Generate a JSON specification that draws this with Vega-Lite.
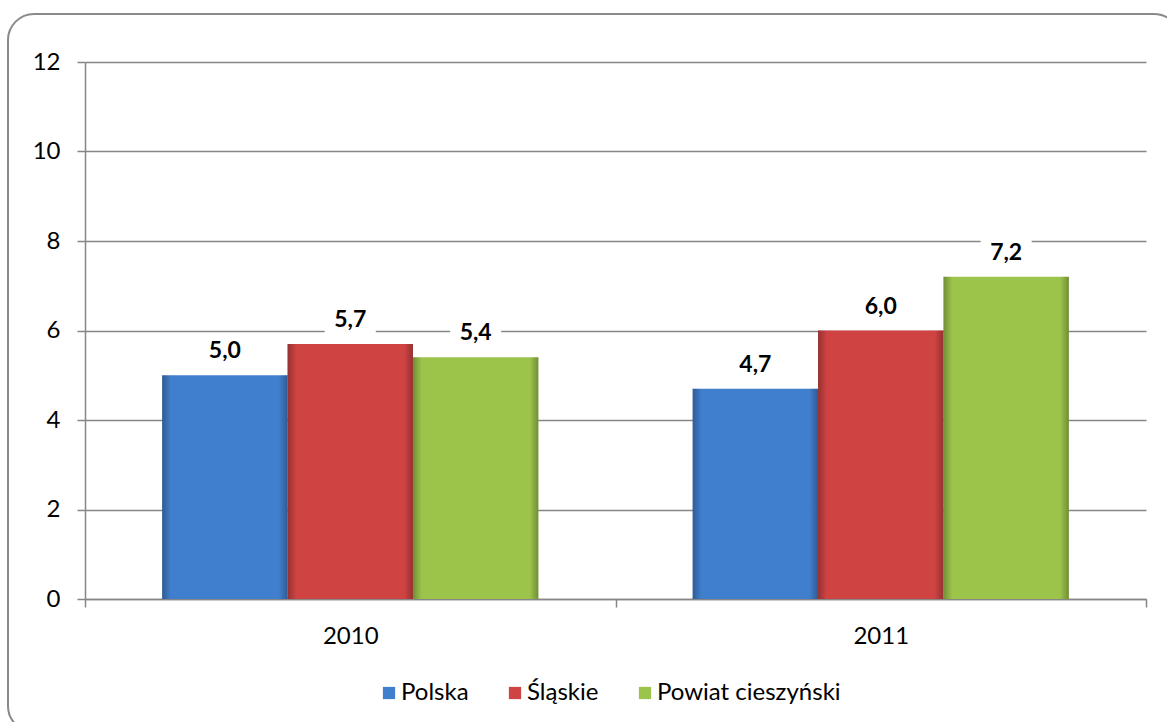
{
  "$schema": "https://vega.github.io/schema/vega-lite/v6.json",
  "width": 1172,
  "height": 718,
  "autosize": "none",
  "padding": {"left": 8, "top": 14, "right": -13, "bottom": -10},
  "background": "white",
  "config": {
    "locale": {"number": {"decimal": ",", "thousands": " ", "grouping": [3], "currency": ["", " zł"]}},
    "view": {"stroke": "#8a8a8a", "strokeWidth": 2, "cornerRadius": 26},
    "font": "Lato"
  },
  "data": {
    "values": [
      {"year": "2010", "region": "Polska", "value": 5.0},
      {"year": "2010", "region": "Śląskie", "value": 5.7},
      {"year": "2010", "region": "Powiat cieszyński", "value": 5.4},
      {"year": "2011", "region": "Polska", "value": 4.7},
      {"year": "2011", "region": "Śląskie", "value": 6.0},
      {"year": "2011", "region": "Powiat cieszyński", "value": 7.2}
    ]
  },
  "encoding": {
    "x": {
      "field": "year",
      "type": "nominal",
      "scale": {"range": [77, 1138], "paddingInner": 0, "paddingOuter": 0},
      "axis": {
        "title": null,
        "offset": -133,
        "labelAngle": 0,
        "labelFont": "Lato",
        "labelFontSize": 24,
        "labelColor": "#000000",
        "labelPadding": 17,
        "tickBand": "extent",
        "tickSize": 8,
        "tickColor": "#868686",
        "tickWidth": 1.5,
        "domainColor": "#868686",
        "domainWidth": 1.5,
        "grid": false
      }
    },
    "xOffset": {
      "field": "region",
      "type": "nominal",
      "sort": ["Polska", "Śląskie", "Powiat cieszyński"],
      "scale": {"paddingInner": 0, "paddingOuter": 0.615}
    },
    "y": {
      "field": "value",
      "type": "quantitative",
      "scale": {"domain": [0, 12], "range": [585, 48], "nice": false, "zero": true},
      "axis": {
        "title": null,
        "offset": -77,
        "values": [0, 2, 4, 6, 8, 10, 12],
        "format": "d",
        "labelFont": "Lato",
        "labelFontSize": 24,
        "labelColor": "#000000",
        "labelPadding": 17,
        "tickSize": 8,
        "tickColor": "#868686",
        "tickWidth": 1.5,
        "domainColor": "#868686",
        "domainWidth": 1.5,
        "grid": true,
        "gridColor": "#868686",
        "gridWidth": 1.3
      }
    }
  },
  "layer": [
    {
      "mark": {"type": "bar", "opacity": 1},
      "encoding": {
        "color": {
          "field": "region",
          "type": "nominal",
          "scale": {
            "domain": ["Polska", "Śląskie", "Powiat cieszyński"],
            "range": ["#407fcd", "#cf4343", "#9cc44b"]
          },
          "legend": {
            "title": null,
            "orient": "none",
            "direction": "horizontal",
            "legendX": 369,
            "legendY": 667,
            "symbolType": "square",
            "symbolSize": 150,
            "symbolStrokeWidth": 0,
            "labelFont": "Lato",
            "labelFontSize": 24,
            "labelColor": "#000000",
            "labelOffset": 0,
            "labelLimit": 400,
            "columnPadding": 34,
            "padding": 0
          }
        }
      }
    },
    {
      "mark": {
        "type": "bar",
        "fill": {
          "gradient": "linear",
          "x1": 0, "y1": 0, "x2": 1, "y2": 0,
          "stops": [
            {"offset": 0, "color": "rgba(0,0,0,0.28)"},
            {"offset": 0.07, "color": "rgba(0,0,0,0)"},
            {"offset": 0.93, "color": "rgba(0,0,0,0)"},
            {"offset": 1, "color": "rgba(0,0,0,0.28)"}
          ]
        }
      }
    },
    {
      "mark": {
        "type": "point",
        "shape": "M-1,-0.55H1V0.55H-1Z",
        "size": 2601,
        "filled": true,
        "fill": "white",
        "strokeWidth": 0,
        "opacity": 1,
        "yOffset": -24
      }
    },
    {
      "mark": {
        "type": "text",
        "dy": -24,
        "baseline": "middle",
        "align": "center",
        "font": "Lato",
        "fontWeight": "bold",
        "fontSize": 23,
        "color": "#000000"
      },
      "encoding": {
        "text": {"field": "value", "type": "quantitative", "format": ".1f"}
      }
    }
  ]
}
